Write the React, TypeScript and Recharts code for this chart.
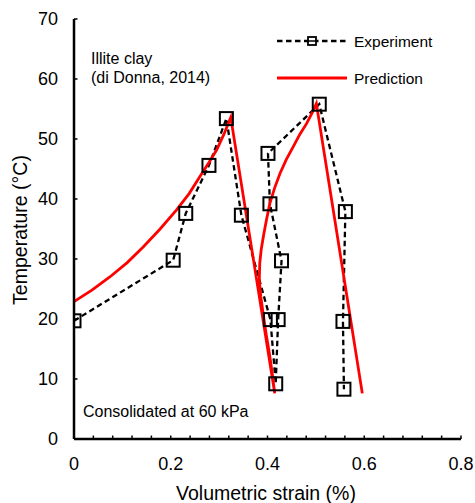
import { ComposedChart, Line, XAxis, YAxis } from "recharts"

// measured points (di Donna, 2014)
const strainExp = [0, 0.205, 0.231, 0.279, 0.315, 0.346, 0.406, 0.417, 0.422, 0.429, 0.405, 0.401, 0.507, 0.561, 0.556, 0.558]
const tempExp = [19.7, 29.8, 37.6, 45.6, 53.4, 37.3, 19.9, 9.2, 19.9, 29.7, 39.2, 47.6, 55.8, 37.9, 19.6, 8.3]

// model curve: heat, cool, heat, cool
const strainPred = [0, 0.037, 0.074, 0.11, 0.143, 0.178, 0.212, 0.238, 0.26, 0.28, 0.295, 0.31, 0.324, 0.415, 0.41, 0.404, 0.397, 0.391, 0.386, 0.383, 0.384, 0.387, 0.392, 0.398, 0.405, 0.415, 0.426, 0.439, 0.453, 0.467, 0.481, 0.492, 0.501, 0.596]
const tempPred = [22.9, 24.8, 27, 29.4, 32, 35, 38.2, 40.9, 43.7, 46.2, 48.2, 50.8, 53.6, 7.6, 10.8, 14.2, 17.6, 20.9, 23.8, 26.5, 29.3, 31.6, 34, 36.6, 39.3, 41.9, 44.3, 46.6, 48.7, 50.8, 52.6, 54.3, 55.9, 7.6]

const strainTicks = [0, 0.04, 0.08, 0.12, 0.16, 0.2, 0.24, 0.28, 0.32, 0.36, 0.4, 0.44, 0.48, 0.52, 0.56, 0.6, 0.64, 0.68, 0.72, 0.76, 0.8]
const tempTicks = [0, 10, 20, 30, 40, 50, 60, 70]

const expData = strainExp.map((x, i) => ({ x, t: tempExp[i] }))
const predData = strainPred.map((x, i) => ({ x, t: tempPred[i] }))

const FONT = "'Liberation Sans', Arial, sans-serif"

function SquareDot(props: any) {
  const { cx, cy, index } = props
  if (cx == null || cy == null) return <g key={index} />
  return (
    <rect key={index} x={cx - 6.5} y={cy - 6.5} width={13} height={13} fill="none" stroke="#000" strokeWidth={2} />
  )
}

function StrainTick(props: any) {
  const { x, y, payload } = props
  const v: number = payload.value
  const major = Math.abs(v * 5 - Math.round(v * 5)) < 1e-6
  return (
    <g>
      <line x1={x} x2={x} y1={y} y2={y - 3.5} stroke="#000" strokeWidth={1.5} />
      {major && (
        <text x={x} y={y + 25} textAnchor="middle" dominantBaseline="central" fontSize={18} fontFamily={FONT} fill="#000">
          {v === 0 ? "0" : v.toFixed(1)}
        </text>
      )}
    </g>
  )
}

function TempTick(props: any) {
  const { x, y, payload } = props
  return (
    <g>
      <line x1={x} x2={x + 3.5} y1={y} y2={y} stroke="#000" strokeWidth={1.5} />
      <text x={x - 16} y={y} textAnchor="end" dominantBaseline="central" fontSize={18} fontFamily={FONT} fill="#000">
        {payload.value}
      </text>
    </g>
  )
}

export default function App() {
  return (
    <div style={{ position: "absolute", left: 0, top: 0, width: 475, height: 503, background: "#fff" }}>
      <ComposedChart width={475} height={503} margin={{ top: 19, right: 14, bottom: 14, left: 14 }}>
        <XAxis
          type="number"
          dataKey="x"
          domain={[0, 0.8]}
          ticks={strainTicks}
          interval={0}
          height={50}
          tickSize={0}
          tickMargin={0}
          tick={<StrainTick />}
          axisLine={{ stroke: "#000", strokeWidth: 2.5 }}
          allowDataOverflow
        />
        <YAxis
          type="number"
          dataKey="t"
          domain={[0, 70]}
          ticks={tempTicks}
          interval={0}
          width={60}
          tickSize={0}
          tickMargin={0}
          tick={<TempTick />}
          axisLine={{ stroke: "#000", strokeWidth: 2.5 }}
          allowDataOverflow
        />
        <Line
          data={expData}
          dataKey="t"
          type="linear"
          stroke="#000"
          strokeWidth={2.3}
          strokeDasharray="5.5 3.5"
          dot={(p: any) => <SquareDot {...p} />}
          activeDot={false}
          isAnimationActive={false}
        />
        <Line
          data={predData}
          dataKey="t"
          type="linear"
          stroke="#ff0000"
          strokeWidth={2.8}
          dot={false}
          activeDot={false}
          isAnimationActive={false}
        />

        {/* legend */}
        <line x1={277} x2={347} y1={41} y2={41} stroke="#000" strokeWidth={2.3} strokeDasharray="5.5 3.5" />
        <rect x={308} y={37} width={8} height={8} fill="#fff" stroke="#000" strokeWidth={1.8} />
        <line x1={308} x2={316} y1={41} y2={41} stroke="#000" strokeWidth={1.5} />
        <text x={354} y={41} dominantBaseline="central" fontSize={15.5} fontFamily={FONT} fill="#000">Experiment</text>
        <line x1={277} x2={347} y1={78} y2={78} stroke="#ff0000" strokeWidth={2.8} />
        <text x={354} y={78} dominantBaseline="central" fontSize={15.5} fontFamily={FONT} fill="#000">Prediction</text>

        {/* annotations */}
        <text x={91} y={58} dominantBaseline="central" fontSize={16} fontFamily={FONT} fill="#000">Illite clay</text>
        <text x={91} y={77} dominantBaseline="central" fontSize={16} fontFamily={FONT} fill="#000">(di Donna, 2014)</text>
        <text x={83} y={411} dominantBaseline="central" fontSize={16} fontFamily={FONT} fill="#000">Consolidated at 60 kPa</text>

        {/* axis titles */}
        <text x={266} y={493} textAnchor="middle" dominantBaseline="central" fontSize={19.5} fontFamily={FONT} fill="#000">
          Volumetric strain (%)
        </text>
        <text
          x={20}
          y={230}
          transform="rotate(-90 20 230)"
          textAnchor="middle"
          dominantBaseline="central"
          fontSize={19.5}
          fontFamily={FONT}
          fill="#000"
        >
          Temperature (°C)
        </text>
      </ComposedChart>
    </div>
  )
}
